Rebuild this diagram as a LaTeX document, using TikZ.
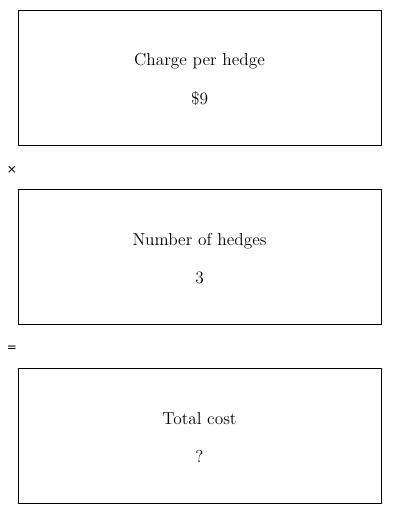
\documentclass[tikz,border=0pt]{standalone}
\usepackage{fontspec}
\newfontfamily\opfont{DejaVu Sans}
\usetikzlibrary{positioning}

\begin{document}
\begin{tikzpicture}[
x=0.75pt, y=-0.75pt,
box/.style={draw, line width=0.6pt, minimum width=363*0.75pt, minimum height=135*0.75pt, inner sep=0pt},
boxtext/.style={align=center, font=\fontsize{13}{15}\selectfont, inner sep=0pt, yshift=-1.5pt},
op/.style={font=\opfont\small, inner sep=0pt} ]

\useasboundingbox (0,0) rectangle (400,514);

\node[box] (A) at (199.5,77.5) {};
\node[boxtext] (At) at (A.center) {Charge per hedge\\[14pt]\$9};

\node[op] (T) at (12,170) {×};

\node[box] (B) at (199.5,256.5) {};
\node[boxtext] (Bt) at (B.center) {Number of hedges\\[14pt]3};

\node[op] (E) at (12,349) {=};

\node[box] (C) at (199.5,435.5) {};
\node[boxtext] (Ct) at (C.center) {Total cost\\[14pt]?};

\end{tikzpicture}
\end{document}
